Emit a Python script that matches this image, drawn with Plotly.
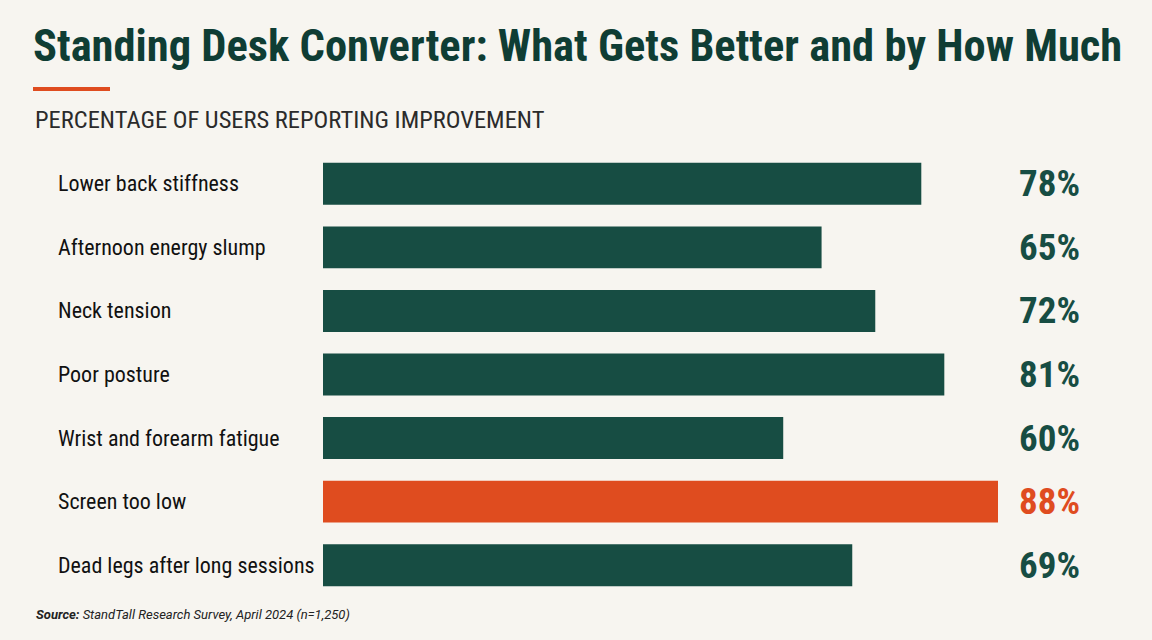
import plotly.graph_objects as go

categories = ["Lower back stiffness", "Afternoon energy slump", "Neck tension", "Poor posture",
              "Wrist and forearm fatigue", "Screen too low", "Dead legs after long sessions"]
values = [78, 65, 72, 81, 60, 88, 69]
highlight = "Screen too low"

GREEN = "#174d43"
ORANGE = "#df4c1f"
BG = "#f7f5f0"
FONT = "Roboto Condensed, DejaVu Sans Condensed, sans-serif"

L, R, T, B = 323, 154, 152, 43
W, H = 1152, 640
PW = W - L - R
PH = H - T - B

def px(x):
    return (x - L) / PW

def py(y):
    return (H - B - y) / PH

colors = [ORANGE if c == highlight else GREEN for c in categories]

fig = go.Figure(go.Bar(
    x=values, y=categories, orientation="h",
    marker=dict(color=colors, line=dict(width=0)),
    width=0.66, hoverinfo="skip",
))

ann = []
for c, v, col in zip(categories, values, colors):
    ann.append(dict(x=px(56), xref="paper", y=c, yref="y", text=c, showarrow=False,
                    xanchor="left", yanchor="middle",
                    font=dict(family=FONT, size=22, color="#111111")))
    ann.append(dict(x=px(1082), xref="paper", y=c, yref="y", text=f"<b>{v}%</b>", showarrow=False,
                    xanchor="right", yanchor="middle",
                    font=dict(family=FONT, size=37, color=col)))

ann.append(dict(x=px(31), xref="paper", y=py(46), yref="paper",
                text="<b>Standing Desk Converter: What Gets Better and by How Much</b>",
                showarrow=False, xanchor="left", yanchor="middle",
                font=dict(family=FONT, size=44.5, color="#0f3d34")))
ann.append(dict(x=px(33), xref="paper", y=py(119), yref="paper",
                text="PERCENTAGE OF USERS REPORTING IMPROVEMENT",
                showarrow=False, xanchor="left", yanchor="middle",
                font=dict(family=FONT, size=24.5, color="#2b2b2b")))
ann.append(dict(x=px(34), xref="paper", y=py(614), yref="paper",
                text="<b><i>Source:</i></b><i> StandTall Research Survey, April 2024 (n=1,250)</i>",
                showarrow=False, xanchor="left", yanchor="middle",
                font=dict(family="Roboto, Liberation Sans, sans-serif", size=13, color="#222222")))

fig.update_layout(
    width=W, height=H,
    margin=dict(l=L, r=R, t=T, b=B),
    paper_bgcolor=BG, plot_bgcolor=BG,
    showlegend=False,
    xaxis=dict(range=[0, 88], visible=False, fixedrange=True),
    yaxis=dict(autorange="reversed", visible=False, fixedrange=True, categoryorder="array",
               categoryarray=categories),
    annotations=ann,
    shapes=[dict(type="rect", xref="paper", yref="paper", x0=px(33), x1=px(110),
                 y0=py(91), y1=py(87), fillcolor=ORANGE, line=dict(width=0))],
)

fig.write_html("out.html")
